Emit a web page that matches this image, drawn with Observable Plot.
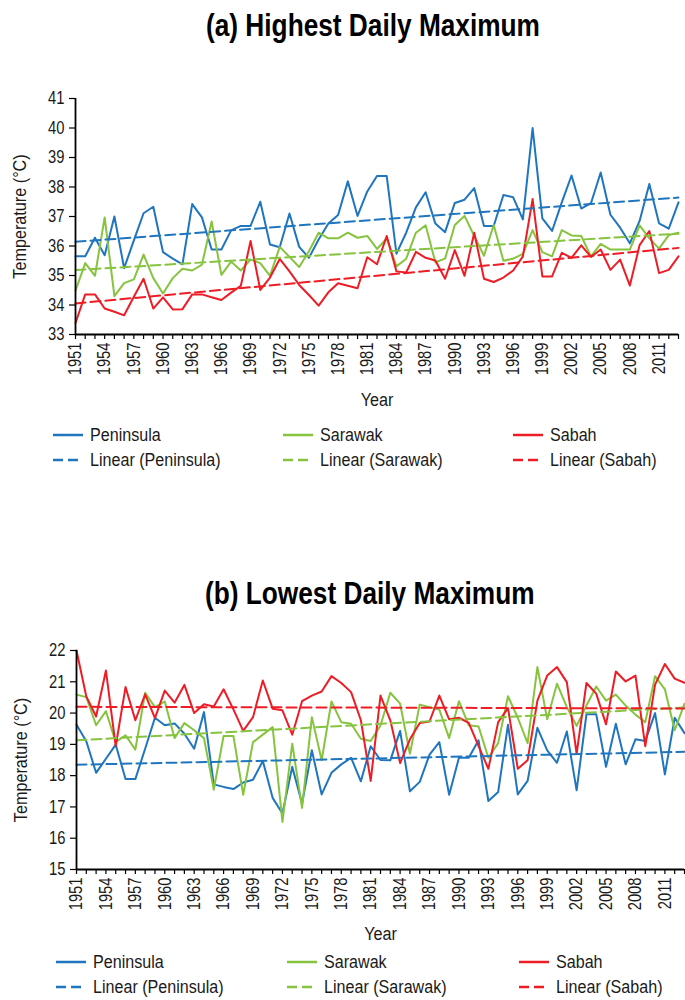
<!DOCTYPE html>
<html>
<head>
<meta charset="utf-8">
<script src="https://cdn.jsdelivr.net/npm/d3@7"></script>
<script src="https://cdn.jsdelivr.net/npm/@observablehq/plot@0.6"></script>
<style>
  html, body { margin: 0; padding: 0; background: #fff; }
  #page { position: relative; width: 685px; height: 1000px; overflow: hidden;
          font-family: "Liberation Sans", Arial, sans-serif; color: #1a1a1a; }
  .title { position: absolute; white-space: nowrap; font-weight: bold; font-size: 32px; line-height: 32px; color: #000;
           transform: scaleX(0.82); transform-origin: 0 50%; }
  .chart { position: absolute; left: 0; }
  .leg { position: absolute; white-space: nowrap; font-size: 17.5px; line-height: 20px; height: 20px; display: flex; align-items: center; }
  .leg svg { display: block; margin-right: 7px; }
  .leg span { display: inline-block; transform: scaleX(0.92); transform-origin: 0 50%; }
</style>
</head>
<body>
<div id="page"></div>
<script>
// ---- Data ----
const years = d3.range(1951, 2014);
const labelYears = years.filter((y, i) => i % 3 === 0);
const seriesNames = ["Peninsula", "Sarawak", "Sabah"];
const seriesColors = ["#1f75be", "#86c43f", "#ee1c25"];

// (a) Highest Daily Maximum (°C)
const peninsulaHigh = [35.65,35.65,36.28,35.69,37.0,35.25,36.19,37.11,37.33,35.79,35.57,35.38,37.42,36.97,35.88,35.88,36.53,36.68,36.68,37.5,36.05,35.96,37.1,35.97,35.6,36.22,36.76,37.05,38.19,37.02,37.85,38.37,38.37,35.74,36.45,37.31,37.82,36.76,36.47,37.46,37.57,37.96,36.68,36.68,37.73,37.65,36.9,40.0,36.94,36.51,37.48,38.39,37.27,37.45,38.49,37.06,36.62,36.09,36.85,38.1,36.77,36.59,37.48];
const sarawakHigh = [34.49,35.42,34.99,36.97,34.30,34.74,34.87,35.71,34.91,34.39,34.91,35.23,35.17,35.37,36.83,35.02,35.47,35.17,35.54,35.42,34.99,35.97,35.63,35.29,35.82,36.45,36.26,36.26,36.45,36.28,36.34,35.9,36.26,35.31,35.57,36.45,36.70,35.45,35.57,36.71,37.02,36.34,35.67,36.71,35.50,35.57,35.73,36.54,35.79,35.65,36.54,36.36,36.34,35.65,36.07,35.88,35.88,35.88,36.70,36.26,35.91,36.37,36.45];
const sabahHigh = [33.39,34.36,34.36,33.88,33.77,33.65,34.28,34.89,33.88,34.26,33.85,33.86,34.36,34.36,34.26,34.17,34.42,34.65,36.17,34.51,34.93,35.56,35.14,34.68,34.34,33.98,34.43,34.74,34.65,34.57,35.62,35.38,36.34,35.14,35.1,35.8,35.6,35.51,34.89,35.86,34.99,36.45,34.89,34.78,34.93,35.17,35.65,37.59,34.97,34.97,35.77,35.6,36.02,35.63,35.88,35.19,35.54,34.66,36.03,36.51,35.08,35.19,35.65];

// (b) Lowest Daily Maximum (°C)
const peninsulaLow = [19.63,19.10,18.09,18.54,18.99,17.89,17.89,18.86,19.85,19.61,19.67,19.34,18.86,20.03,17.72,17.64,17.57,17.78,17.87,18.47,17.29,16.79,18.28,17.11,18.81,17.40,18.09,18.36,18.57,17.82,18.94,18.5,18.49,19.43,17.5,17.80,18.67,19.07,17.39,18.57,18.57,19.13,17.19,17.48,19.63,17.40,17.83,19.53,18.81,18.41,19.41,17.53,19.96,19.96,18.28,19.66,18.36,19.16,19.11,20.0,18.04,19.85,19.36];
const sarawakLow = [20.59,20.51,19.61,20.06,19.07,19.29,18.83,20.65,20.19,20.37,19.20,19.68,19.45,19.20,17.55,19.27,19.27,17.39,19.07,19.31,19.55,16.52,19.02,16.97,19.87,18.49,20.37,19.71,19.66,19.18,19.11,19.6,20.65,20.30,18.70,20.27,20.19,20.11,19.20,20.38,19.61,19.57,18.57,19.04,20.54,19.85,19.04,21.47,19.80,20.94,20.19,19.59,20.24,20.85,20.40,20.59,20.24,19.95,19.71,21.18,20.76,19.45,20.30];
const sabahLow = [22.0,20.53,19.89,21.36,18.94,20.83,19.77,20.60,19.84,20.72,20.33,20.90,20.0,20.28,20.21,20.76,20.12,19.43,19.87,21.04,20.14,20.09,19.31,20.38,20.56,20.69,21.18,20.96,20.67,19.77,17.83,20.56,19.77,18.40,19.16,19.68,19.73,20.56,19.80,19.85,19.69,18.94,18.22,19.71,20.16,18.22,18.49,20.40,21.20,21.47,20.99,18.70,20.96,20.62,19.64,21.33,21.01,21.20,18.94,20.91,21.57,21.10,20.97];

const yTicksA = [33,34,35,36,37,38,39,40,41];
const yTicksB = [15,16,17,18,19,20,21,22];

const FONT = "'Liberation Sans', Arial, sans-serif";
const page = document.getElementById("page");

function rows(arr) { return years.map((year, i) => ({year, value: arr[i]})); }

// condense SVG text (emulates a narrow typeface)
function condense(svg) {
  svg.querySelectorAll("text").forEach(t => {
    const txt = t.textContent;
    if (!txt) return;
    const isLabel = /Year|Temperature/.test(txt);
    const k = isLabel ? 0.9 : 0.82;
    const L = t.getComputedTextLength();
    if (L > 0) {
      t.setAttribute("textLength", (L * k).toFixed(2));
      t.setAttribute("lengthAdjust", "spacingAndGlyphs");
    }
  });
}

function makeChart(seriesArrays, yDomain, yTicks, opts) {
  const marks = [];
  seriesArrays.forEach((arr, k) => {
    marks.push(Plot.lineY(rows(arr), {x: "year", y: "value", stroke: seriesColors[k], strokeWidth: 2}));
  });
  seriesArrays.forEach((arr, k) => {
    marks.push(Plot.linearRegressionY(rows(arr), {x: "year", y: "value", stroke: seriesColors[k], strokeWidth: 2, strokeDasharray: "10,5", ci: 0}));
  });
  marks.push(
    Plot.axisX({ticks: years, tickSize: 5, tickFormat: () => "", label: null, stroke: "#000", strokeWidth: 1.2}),
    Plot.axisX({ticks: labelYears, tickSize: 0, tickPadding: 8, tickRotate: -90, tickFormat: d => String(d),
                fontSize: 18, label: "Year", labelAnchor: "center", labelArrow: "none", labelOffset: opts.xLabelOffset}),
    Plot.axisY({ticks: yTicks, tickSize: 6, tickPadding: 5, fontSize: 18, stroke: "#000", strokeWidth: 1.2,
                tickFormat: d => String(d),
                label: "Temperature (°C)", labelAnchor: "center", labelArrow: "none", labelOffset: opts.yLabelOffset}),
    Plot.ruleY([yDomain[0]], {stroke: "#000", strokeWidth: 1.8}),
    Plot.ruleX([years[0]], {stroke: "#000", strokeWidth: 1.8})
  );
  const svg = Plot.plot({
    width: 685,
    height: opts.height,
    marginTop: opts.marginTop,
    marginBottom: opts.marginBottom,
    marginLeft: opts.marginLeft,
    marginRight: opts.marginRight,
    x: {type: "linear", domain: [1951, 2013]},
    y: {domain: yDomain},
    style: {fontFamily: FONT, fontSize: "18px", color: "#1a1a1a", background: "transparent", overflow: "visible"},
    marks
  });
  svg.classList.add("chart");
  svg.style.top = opts.top + "px";
  svg.style.position = "absolute";
  page.appendChild(svg);
  condense(svg);
}

function addTitle(text, left, top) {
  const d = document.createElement("div");
  d.className = "title";
  d.textContent = text;
  d.style.left = left + "px";
  d.style.top = top + "px";
  page.appendChild(d);
}

function addLegend(swatchX, rowY) {
  seriesNames.forEach((name, k) => {
    [false, true].forEach((dashed, r) => {
      const d = document.createElement("div");
      d.className = "leg";
      d.style.left = swatchX[k] + "px";
      d.style.top = (rowY[r] - 10) + "px";
      const ns = "http://www.w3.org/2000/svg";
      const s = document.createElementNS(ns, "svg");
      s.setAttribute("width", 30); s.setAttribute("height", 6);
      const l = document.createElementNS(ns, "line");
      l.setAttribute("x1", 0); l.setAttribute("x2", 30); l.setAttribute("y1", 3); l.setAttribute("y2", 3);
      l.setAttribute("stroke", seriesColors[k]); l.setAttribute("stroke-width", 2.5);
      if (dashed) l.setAttribute("stroke-dasharray", "10,5");
      s.appendChild(l);
      d.appendChild(s);
      const t = document.createElement("span");
      t.textContent = dashed ? `Linear (${name})` : name;
      d.appendChild(t);
      page.appendChild(d);
    });
  });
}

addTitle("(a) Highest Daily Maximum", 206, 9);
makeChart([peninsulaHigh, sarawakHigh, sabahHigh], [33, 41], yTicksA,
  {top: 0, height: 420, marginTop: 98, marginBottom: 86, marginLeft: 75, marginRight: 7, xLabelOffset: 71, yLabelOffset: 62});
addLegend([53, 283, 513], [435, 460]);

addTitle("(b) Lowest Daily Maximum", 205, 577);
makeChart([peninsulaLow, sarawakLow, sabahLow], [15, 22], yTicksB,
  {top: 500, height: 450, marginTop: 150, marginBottom: 81, marginLeft: 76, marginRight: 1, xLabelOffset: 70, yLabelOffset: 62});
addLegend([56, 287, 519], [962, 987]);
</script>
</body>
</html>
